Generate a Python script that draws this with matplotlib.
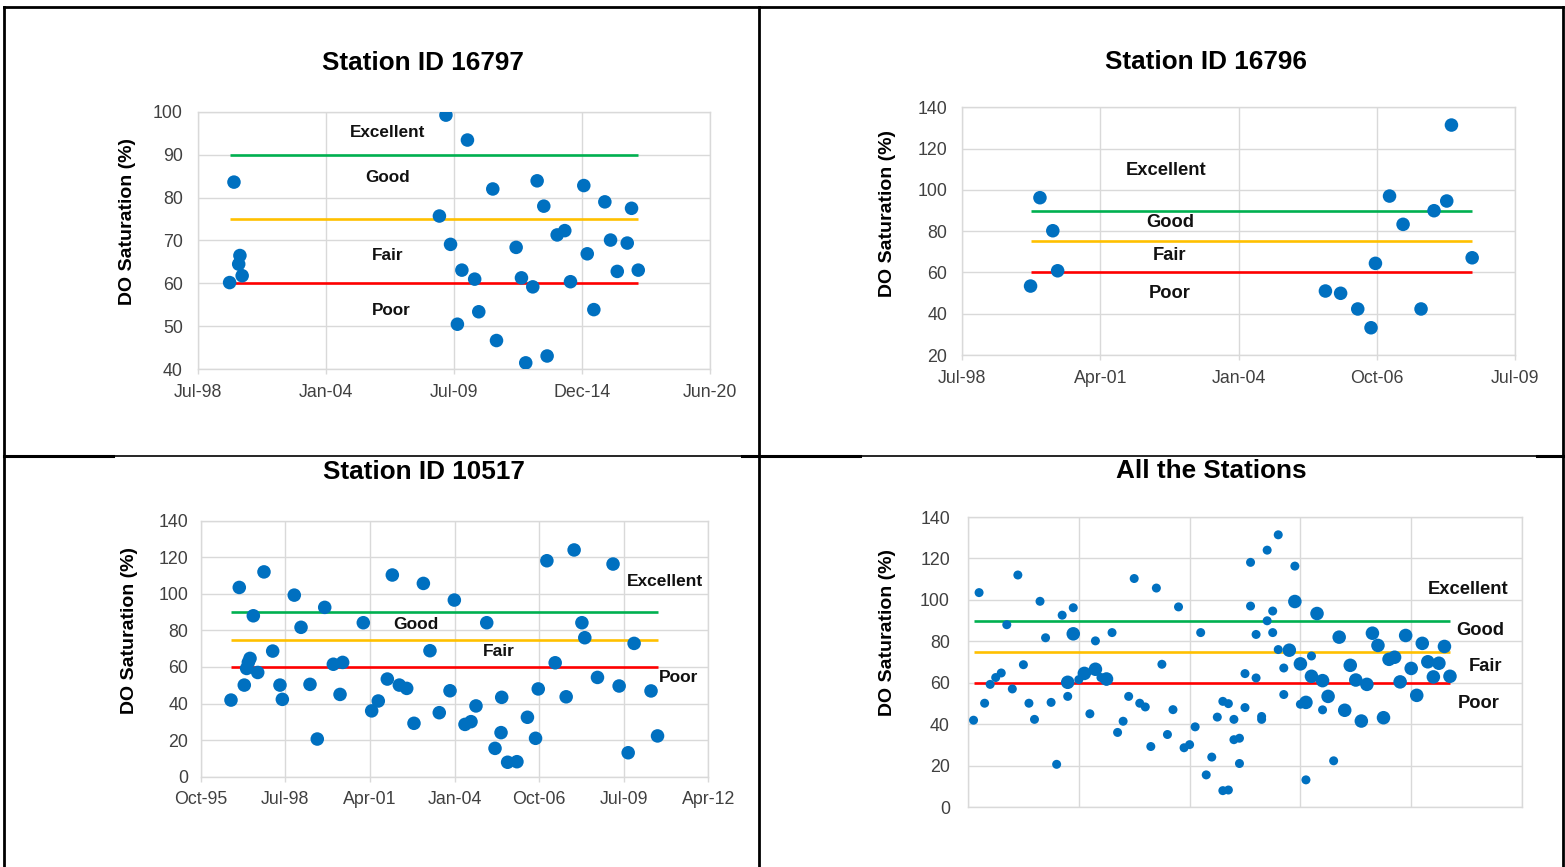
import numpy as np
import pandas as pd
import matplotlib
matplotlib.use("Agg")
import matplotlib.pyplot as plt
import matplotlib.dates as mdates
from matplotlib.lines import Line2D

plt.rcParams['font.family'] = ['Liberation Sans', 'DejaVu Sans']

# ---------------------------------------------------------------- data
# Station 16797
s16797_dates = ['1999-11-30', '2000-02-06', '2000-04-20', '2000-05-09', '2000-06-13',
                '2008-11-20', '2009-03-02', '2009-05-13', '2009-08-28', '2009-11-06',
                '2010-02-01', '2010-05-25', '2010-07-28', '2011-03-04', '2011-05-01',
                '2012-03-03', '2012-05-25', '2012-07-31', '2012-11-18', '2013-01-25',
                '2013-05-09', '2013-06-30', '2013-12-04', '2014-04-02', '2014-06-30',
                '2015-01-24', '2015-03-19', '2015-06-30', '2015-12-19', '2016-03-17',
                '2016-06-30', '2016-12-03', '2017-02-08', '2017-05-24']
s16797_do = [60.2, 83.6, 64.5, 66.5, 61.8,
             75.7, 99.2, 69.1, 50.5, 63.1,
             93.4, 61.0, 53.4, 82.0, 46.7,
             68.4, 61.3, 41.5, 59.2, 83.9,
             78.0, 43.1, 71.3, 72.3, 60.4,
             82.8, 66.9, 53.9, 79.0, 70.1,
             62.8, 69.4, 77.5, 63.1]

# Station 16796
s16796_dates = ['1999-11-30', '2000-02-06', '2000-05-09', '2000-06-13',
                '2005-10-03', '2006-01-21', '2006-05-25', '2006-08-29', '2006-09-30',
                '2007-01-10', '2007-04-18', '2007-08-26', '2007-11-28', '2008-02-28',
                '2008-04-02', '2008-08-30']
s16796_do = [53.4, 96.2, 80.2, 60.8,
             51.0, 49.9, 42.3, 33.2, 64.4,
             97.0, 83.3, 42.3, 89.9, 94.6,
             131.4, 67.1]

# Station 10517
s10517_dates = ['1996-10-20', '1997-01-26', '1997-03-26', '1997-04-23', '1997-05-13',
                '1997-06-02', '1997-07-11', '1997-09-01', '1997-11-14', '1998-02-25',
                '1998-05-22', '1998-06-19', '1998-11-07', '1999-01-26', '1999-05-12',
                '1999-08-06', '1999-11-02', '2000-02-12', '2000-05-01', '2000-06-01',
                '2001-01-31', '2001-05-10', '2001-07-27', '2001-11-11', '2002-01-09',
                '2002-04-02', '2002-06-28', '2002-09-22', '2003-01-11', '2003-03-30',
                '2003-07-18', '2003-11-22', '2004-01-12', '2004-05-17', '2004-07-27',
                '2004-09-24', '2005-01-29', '2005-05-07', '2005-07-17', '2005-07-25',
                '2005-10-03', '2006-01-21', '2006-05-25', '2006-08-29', '2006-09-30',
                '2007-01-10', '2007-04-18', '2007-08-26', '2007-11-28', '2008-02-28',
                '2008-04-02', '2008-08-30', '2009-03-02', '2009-05-13', '2009-08-28',
                '2009-11-06', '2010-05-25', '2010-08-10']
s10517_do = [41.9, 103.5, 50.1, 59.2, 62.5,
             64.7, 88.0, 57.0, 112.0, 68.7,
             50.1, 42.3, 99.3, 81.7, 50.5,
             20.6, 92.6, 61.5, 45.0, 62.5,
             84.2, 36.0, 41.4, 53.4, 110.3,
             50.1, 48.3, 29.2, 105.7, 68.9,
             35.0, 47.0, 96.6, 28.6, 30.1,
             38.7, 84.2, 15.5, 24.1, 43.4,
             7.9, 8.2, 32.5, 21.0, 48.0,
             118.1, 62.3, 43.7, 124.0, 84.2,
             76.0, 54.3, 116.3, 49.6, 13.1,
             72.9, 46.9, 22.3]

# DO saturation class limits (%)
limit_excellent = 90
limit_good = 75
limit_fair = 60
class_names = ['Excellent', 'Good', 'Fair', 'Poor']

# ---------------------------------------------------------------- style
W, H = 1565, 867
BLUE = '#0070C0'
GREEN = '#00B050'
ORANGE = '#FFC000'
RED = '#FF0000'
GRID = '#d9d9d9'
TICKC = '#404040'
EXCEL0 = np.datetime64('1899-12-30')

fig = plt.figure(figsize=(W / 100, H / 100), dpi=100)
fig.patch.set_facecolor('white')


def px_axes(left, top, right, bottom):
    return fig.add_axes([left / W, 1 - bottom / H, (right - left) / W, (bottom - top) / H])


def excel_days(serials):
    return mdates.date2num((EXCEL0 + np.array(serials, dtype='timedelta64[D]')).astype('datetime64[D]').astype(object))


def to_num(dates):
    return mdates.date2num(pd.to_datetime(dates).to_pydatetime())


def style_axes(ax, ylim, ystep, ypad):
    ax.set_ylim(*ylim)
    ax.set_yticks(np.arange(ylim[0], ylim[1] + 1, ystep))
    ax.grid(True, color=GRID, lw=1.0)
    ax.set_axisbelow(True)
    for sp in ax.spines.values():
        sp.set_color(GRID)
        sp.set_linewidth(1.0)
    ax.tick_params(axis='y', length=0, pad=ypad, labelsize=12.8, labelcolor=TICKC)
    ax.tick_params(axis='x', length=3.6, width=1.0, color=GRID, pad=7,
                   labelsize=12.8, labelcolor=TICKC, direction='out')


def draw_limits(ax, x0, x1):
    ax.plot([x0, x1], [limit_excellent] * 2, color=GREEN, lw=1.9, zorder=2, solid_capstyle='butt')
    ax.plot([x0, x1], [limit_good] * 2, color=ORANGE, lw=1.9, zorder=2, solid_capstyle='butt')
    ax.plot([x0, x1], [limit_fair] * 2, color=RED, lw=1.9, zorder=2, solid_capstyle='butt')


def class_labels(ax, positions, size):
    for name, (x, y) in zip(class_names, positions):
        ax.text(x, y, name, ha='center', va='center', fontsize=size,
                fontweight='bold', color='#111111', zorder=4)


def station_panel(box, dates, values, ylim, ystep, tick_serials, ypad, label_pos, label_size):
    ax = px_axes(*box)
    x = to_num(dates)
    style_axes(ax, ylim, ystep, ypad)
    ticks = excel_days(tick_serials)
    ax.set_xlim(ticks[0], ticks[-1])
    ax.set_xticks(ticks)
    ax.xaxis.set_major_formatter(mdates.DateFormatter('%b-%y'))
    draw_limits(ax, x[0], x[-1])
    ax.scatter(x, values, s=95, color=BLUE, edgecolor='none', zorder=3)
    class_labels(ax, [(to_num([d])[0], v) for d, v in label_pos], label_size)
    return ax


# Station 16797
station_panel((198, 111.7, 710, 369.3), s16797_dates, s16797_do, (40, 100), 10,
              np.arange(36000, 44001, 2000), 11,
              [('2006-08-31', 95.2), ('2006-08-31', 84.6), ('2006-08-31', 66.4), ('2006-11-01', 53.8)], 12.3)

# Station 16796
station_panel((962.3, 107.3, 1515, 355), s16796_dates, s16796_do, (20, 140), 20,
              np.arange(36000, 40001, 1000), 11,
              [('2002-08-05', 109.5), ('2002-09-03', 84.2), ('2002-09-03', 68.2), ('2002-09-03', 49.8)], 13.2)

# Station 10517
station_panel((200.7, 520.7, 708.3, 776.7), s10517_dates, s10517_do, (0, 140), 20,
              np.arange(35000, 41001, 1000), 9,
              [('2010-11-12', 106.8), ('2002-10-15', 83.2), ('2005-06-17', 68.5), ('2011-04-15', 54.0)], 12.5)

# All stations: one row per sampling date, stations side by side
frames = []
for name, d, v in [('10517', s10517_dates, s10517_do),
                   ('16796', s16796_dates, s16796_do),
                   ('16797', s16797_dates, s16797_do)]:
    frames.append(pd.DataFrame({'station': name, 'date': pd.to_datetime(d), 'do': v}))
table = pd.concat(frames, ignore_index=True)
sample_days = np.sort(table['date'].unique())
table['row'] = np.searchsorted(sample_days, table['date'].values) + 1

ax4 = px_axes(968, 517, 1522, 807)
style_axes(ax4, (0, 140), 20, 13)
ax4.set_xlim(0, 100)
ax4.set_xticks(np.arange(0, 101, 20))
ax4.tick_params(axis='x', length=0, labelbottom=False)
draw_limits(ax4, 1, len(sample_days))
for name, size in [('10517', 42), ('16796', 42), ('16797', 95)]:
    sub = table[table['station'] == name]
    ax4.scatter(sub['row'], sub['do'], s=size, color=BLUE, edgecolor='none', zorder=3)
class_labels(ax4, [(90.2, 105.2), (92.4, 85.2), (93.4, 67.9), (92.1, 49.9)], 13.2)

# ---------------------------------------------------------------- titles / axis titles
titles = [('Station ID 16797', 423, 63), ('Station ID 16796', 1206, 62),
          ('Station ID 10517', 424, 472), ('All the Stations', 1211.5, 471)]
for t, x, y in titles:
    fig.text(x / W, 1 - y / H, t, ha='center', va='center', fontsize=18.8,
             fontweight='bold', color='black')

for x, y in [(128, 222), (888, 214), (130, 631), (888, 633)]:
    fig.text(x / W, 1 - y / H, 'DO Saturation (%)', rotation=90, ha='center', va='center',
             fontsize=14, fontweight='bold', color='black')

# ---------------------------------------------------------------- table frame
def frame_line(x0, y0, x1, y1, lw):
    fig.add_artist(Line2D([x0 / W, x1 / W], [1 - y0 / H, 1 - y1 / H], color='black',
                          lw=lw, transform=fig.transFigure, solid_capstyle='projecting'))

frame_line(4, 7, 1563, 7, 2.0)
frame_line(4, 7, 4, 867, 2.0)
frame_line(1563, 7, 1563, 867, 2.0)
frame_line(759, 7, 759, 867, 2.0)
frame_line(4, 456, 113, 456, 2.2)
frame_line(113, 455.5, 742, 455.5, 1.2)
frame_line(742, 456, 860, 456, 2.2)
frame_line(860, 455.5, 1537, 455.5, 1.2)
frame_line(1537, 456, 1563, 456, 2.2)

fig.savefig('out.png', dpi=100, facecolor='white')
